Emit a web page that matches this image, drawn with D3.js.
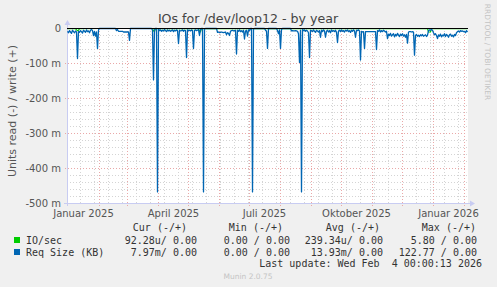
<!DOCTYPE html>
<html><head><meta charset="utf-8">
<script src="https://cdn.jsdelivr.net/npm/d3@7"></script>
<style>html,body{margin:0;padding:0;background:#f0f0f0;}svg{display:block;}</style>
</head><body>
<script>
// ---- data (read values in milli-units, shown below zero) ----
const title = "IOs for /dev/loop12 - by year";
const yAxisTitle = "Units read (-) / write (+)";
const firstDay = "2024-12-31";   // one value per day, munin yearly RRA
const lastUpdate = "2026-02-04";
const reqSizeRead = [
  8,12,6,10,14,5,9,12,7,10, 86,8,11,6,9,13,5,8,11,4, 9,7,12,5,3,6,20,8,22,10,
  57,4,0,0,0,0,0,0,0,0, 0,0,0,0,0,0,0,0,0,6, 3,8,8,8,8,8,10,10,10,10,
  10,10,34,0,0,0,0,0,0,0, 0,0,0,0,0,0,0,0,0,0, 0,0,0,0,0,5,147,3,0,0,
  467,2,6,4,8,5,7,3,6,9, 4,7,5,8,6,4,9,5,7,4, 6,43,5,7,6,4,8,5,6,83,
  4,6,5,7,4,6,57,5,4,6, 5,3,20,3,0,0,467,2,0,0, 0,0,0,0,0,0,0,0,0,0,
  11,10,12,11,10,11,12,11,10,18, 12,14,20,8,6,5,7,6,5,73, 5,8,4,9,6,10,5,30,7,5,
  22,4,6,0,0,467,2,0,0,0, 0,0,0,0,0,0,0,0,5,8, 57,0,0,0,0,0,0,0,0,0,
  6,15,4,57,3,0,0,0,0,0, 0,0,0,0,7,6,7,7,6,7, 8,15,97,5,467,3,6,4,8,5,
  7,12,83,5,6,9,4,8,11,5, 7,10,6,25,5,9,4,7,25,8, 5,10,6,12,4,8,6,9,5,11,
  40,7,5,9,4,8,6,10,5,7, 4,9,6,11,5,8,4,7,25,5, 6,4,7,90,8,10,9,57,9,9,
  9,9,9,9,9,9,9,9,9,60, 6,8,4,10,6,9,5,7,10,8, 29,16,20,14,22,18,15,24,17,21,
  14,19,23,16,20,15,22,18,25,17, 42,10,9,9,10,9,10,76,20,17, 22,19,23,18,21,17,22,20,18,23,
  19,6,4,5,3,5,12,18,15,20, 29,18,22,16,24,19,21,15,23,17, 20,25,18,16,22,19,24,17,20,12,
  9,7,10,6,8,7,9,8,12,6, 10
];
const ioSecDates = ["2024-12-31","2025-01-08","2025-01-09","2025-01-10","2025-01-11","2025-01-12","2025-02-01",
  "2025-03-26","2025-03-27","2025-03-28","2025-03-29","2025-05-11","2025-05-12","2025-05-13","2025-05-14",
  "2025-10-27","2025-12-26","2025-12-27","2025-12-28","2025-12-29","2025-12-30","2025-12-31","2026-02-04"];
const ioSecRead = [0.3,0.5,4,6,5,0.4,0,0,7,9,0.3,0.2,8,9,0.3,0.2,0.3,10,10,10,0.4,0.2,0.2];
const writeZero = [0, 0]; // write side (+) is zero for both series
const yTicks = [0, -100, -200, -300, -400, -500];
const xLabels = [["2025-01-16","Januar 2025"],["2025-04-16","April 2025"],["2025-07-16","Juli 2025"],["2025-10-16","Oktober 2025"],["2026-01-16","Januar 2026"]];
const legendSeries = ["IO/sec", "Req Size (KB)"];
const legendColors = ["#00cc00", "#0066b3"];
const legendCur = ["92.28u/ 0.00", "7.97m/ 0.00"];
const legendMin = ["0.00 / 0.00", "0.00 / 0.00"];
const legendAvg = ["239.34u/ 0.00", "13.93m/ 0.00"];
const legendMax = ["5.80 / 0.00", "122.77 / 0.00"];

// ---- drawing ----
const W = 497, H = 287;
const L = 67, R = 467, T = 28, B = 203;
const parse = d3.utcParse("%Y-%m-%d");
const start = parse(firstDay), end = parse(lastUpdate);
const x = d3.scaleUtc().domain([start, end]).range([L + 0.5, R + 0.5]);
const y = d3.scaleLinear().domain([-500, 0]).range([B + 0.5, T + 0.5]);

const svg = d3.select("body").append("svg").attr("width", W).attr("height", H);
svg.append("rect").attr("width", W).attr("height", H).attr("fill", "#f0f0f0");
svg.append("rect").attr("x", L).attr("y", T).attr("width", R - L + 1).attr("height", B - T).attr("fill", "#ffffff");

const sans = "DejaVu Sans, sans-serif", mono = "DejaVu Sans Mono, monospace";

// grid
const g = svg.append("g");
const minorY = d3.range(-480, 0, 20).filter(v => v % 100 !== 0);
g.selectAll(".my").data(minorY).join("line")
  .attr("x1", L).attr("x2", R).attr("y1", d => y(d)).attr("y2", d => y(d))
  .attr("stroke", "#d4d4d4").attr("stroke-dasharray", "1,2");
const minorX = d3.utcMonday.range(parse("2025-01-13"), end, 2);
g.selectAll(".mx").data(minorX).join("line")
  .attr("x1", d => x(d)).attr("x2", d => x(d)).attr("y1", T).attr("y2", B + 2)
  .attr("stroke", "#d4d4d4").attr("stroke-dasharray", "1,2");
const majorX = d3.utcMonth.range(parse("2025-01-02"), end);
g.selectAll(".Mx").data(majorX).join("line")
  .attr("x1", d => x(d)).attr("x2", d => x(d)).attr("y1", T).attr("y2", B + 3)
  .attr("stroke", "#eaa8a8").attr("stroke-dasharray", "1,2");
g.selectAll(".My").data(yTicks.filter(v => v !== 0 && v !== -500)).join("line")
  .attr("x1", L - 2).attr("x2", R).attr("y1", d => y(d)).attr("y2", d => y(d))
  .attr("stroke", "#eaa8a8").attr("stroke-dasharray", "1,2");

// axes
const axisCol = "#c8ccf2";
svg.append("line").attr("x1", L + 0.5).attr("x2", L + 0.5).attr("y1", B + 3).attr("y2", T - 4).attr("stroke", axisCol);
svg.append("line").attr("x1", L - 3).attr("x2", R + 4).attr("y1", B + 0.5).attr("y2", B + 0.5).attr("stroke", axisCol);
svg.append("path").attr("d", `M${L - 2.5},${T - 3} L${L + 3.5},${T - 3} L${L + 0.5},${T - 8} Z`).attr("fill", axisCol);
svg.append("path").attr("d", `M${R + 3},${B - 2.5} L${R + 3},${B + 3.5} L${R + 8},${B + 0.5} Z`).attr("fill", axisCol);

// y tick labels
svg.selectAll(".yt").data(yTicks).join("text")
  .attr("x", 61).attr("y", d => y(d)).attr("dy", "0.36em").attr("text-anchor", "end")
  .attr("font-family", sans).attr("font-size", 10).attr("fill", "#555")
  .text(d => d === 0 ? "0" : d + " m");

// x labels
svg.selectAll(".xl").data(xLabels).join("text")
  .attr("x", d => x(parse(d[0]))).attr("y", 216.5).attr("text-anchor", "middle")
  .attr("font-family", sans).attr("font-size", 10).attr("fill", "#555")
  .text(d => d[1]);

// series
const days = reqSizeRead.map((v, i) => d3.utcDay.offset(start, i));
const line = d3.line().x(d => x(d[0])).y(d => y(-d[1]));
svg.append("path").datum(ioSecDates.map((d, i) => [parse(d), ioSecRead[i]]))
  .attr("d", line).attr("fill", "none").attr("stroke", legendColors[0]).attr("stroke-width", 1.2);
svg.append("path").datum(days.map((d, i) => [d, reqSizeRead[i]]))
  .attr("d", line).attr("fill", "none").attr("stroke", legendColors[1]).attr("stroke-width", 1.3)
  .attr("stroke-linejoin", "round");
// write side (+) values and zero line
svg.append("line").attr("x1", L).attr("x2", R + 1).attr("y1", y(writeZero[0])).attr("y2", y(writeZero[1]))
  .attr("stroke", "#000").attr("stroke-width", 1);

// titles
svg.append("text").attr("x", 248).attr("y", 22.5).attr("text-anchor", "middle")
  .attr("font-family", sans).attr("font-size", 12.6).attr("fill", "#444").text(title);
svg.append("text").attr("transform", "translate(16,111) rotate(-90)").attr("text-anchor", "middle")
  .attr("font-family", sans).attr("font-size", 11).attr("fill", "#555").text(yAxisTitle);
svg.append("text").attr("transform", "translate(485,52) rotate(90)").attr("text-anchor", "middle")
  .attr("font-family", sans).attr("font-size", 7.5).attr("fill", "#c4c4c4").text("RRDTOOL / TOBI OETIKER");

// legend
const lg = svg.append("g").attr("font-family", mono).attr("font-size", 10).attr("fill", "#333");
const hdr = [["Cur (-/+)", 187], ["Min (-/+)", 283], ["Avg (-/+)", 380], ["Max (-/+)", 476]];
lg.selectAll(".h").data(hdr).join("text").attr("x", d => d[1]).attr("y", 230.5).attr("text-anchor", "end")
  .attr("xml:space", "preserve").text(d => d[0]);
legendSeries.forEach((name, i) => {
  const yy = 243.5 + i * 12;
  lg.append("rect").attr("x", 14).attr("y", yy - 6.5).attr("width", 6).attr("height", 6).attr("fill", legendColors[i]);
  lg.append("text").attr("x", 26).attr("y", yy).text(name);
  [[legendCur[i], 197], [legendMin[i], 290], [legendAvg[i], 383], [legendMax[i], 477]].forEach(c => {
    lg.append("text").attr("x", c[1]).attr("y", yy).attr("text-anchor", "end").attr("xml:space", "preserve").text(c[0]);
  });
});
lg.append("text").attr("x", 482).attr("y", 267).attr("text-anchor", "end").attr("xml:space", "preserve")
  .text("Last update: Wed Feb  4 00:00:13 2026");
svg.append("text").attr("x", 248).attr("y", 279).attr("text-anchor", "middle")
  .attr("font-family", sans).attr("font-size", 7.5).attr("fill", "#c4c4c4").text("Munin 2.0.75");
</script>
</body></html>
